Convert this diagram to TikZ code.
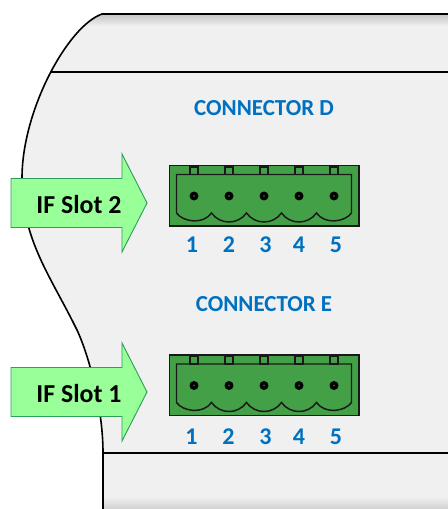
\documentclass[tikz,border=0pt]{standalone}
\usepackage{fontspec}
\setmainfont{Carlito}
\usepackage{xcolor}
\usetikzlibrary{calc}
\definecolor{panel}{HTML}{F0F0F0}
\definecolor{shade}{HTML}{C4C4C4}
\definecolor{blue}{HTML}{0070C0}
\definecolor{body}{HTML}{43A047}
\definecolor{slot}{HTML}{99FF99}
\definecolor{slotedge}{HTML}{2E9E5B}
\newcommand{\outline}{(102,14) .. controls (68,26) and (22,110) .. (22,178)
    .. controls (22,240) and (50,275) .. (77,330)
    .. controls (90,358) and (103,410) .. (103,453) -- (103,509)}
\tikzset{
  housing/.style={draw=black, line width=1.2pt},
  block/.style={draw=black!90, line width=1.1pt},
  arrowbox/.style={draw=slotedge, fill=slot, line width=0.7pt, line join=miter},
  pin/.style={circle, fill=black, inner sep=0pt, minimum size=6.75pt},
  labc/.style={text=blue, font=\fontsize{17.2}{20}\selectfont\bfseries},
  labn/.style={text=blue, font=\fontsize{18}{20}\selectfont\bfseries},
  labs/.style={text=black, font=\fontsize{19.4}{22}\selectfont\bfseries}
}
\begin{document}
\begin{tikzpicture}[x=0.75pt,y=-0.75pt]
  \useasboundingbox (0,0) rectangle (448,509);

  % housing
  \fill[panel] \outline -- (448,509) -- (448,14) -- cycle;
  \begin{scope}
    \clip \outline -- (448,509) -- (448,14) -- cycle;
    \shade[top color=shade, bottom color=panel] (60,14) rectangle (448,26);
    \shade[top color=panel, bottom color=shade!70!panel] (100,497) rectangle (448,509);
  \end{scope}
  \draw[housing] (448,14) -- \outline;
  \draw[line width=0.8pt] (50,72) -- (448,72);
  \draw[line width=0.8pt] (103,453) -- (448,453);

  % connector blocks
  \foreach \dy in {0,189.5} {
    \begin{scope}[yshift=-0.75pt*\dy]
      \fill[body] (169.5,165.5) rectangle (359,226);
      \draw[block, line width=1.2pt] (169.5,165.5) rectangle (359,226);
      \foreach \px in {194,229,264,299,334} {
        \draw[block] ($(\px,167)+(-3.8,0)$) rectangle ($(\px,174.5)+(3.8,0)$);
        \node[pin] at (\px,196) {};
        \fill[body!60!black] (\px,196) circle (1.2);
      }
      \draw[block] (176.5,213) -- (176.5,174.5) -- (351.5,174.5) -- (351.5,213)
        .. controls (345,222) and (325,225) .. (316.5,213)
        .. controls (308,225) and (290,225) .. (281.5,213)
        .. controls (273,225) and (255,225) .. (246.5,213)
        .. controls (238,225) and (220,225) .. (211.5,213)
        .. controls (203,225) and (183,222) .. (176.5,213);
    \end{scope}
  }

  \node[labc] (conD) at (264,108) {CONNECTOR D};
  \node[labc] (conE) at (264,304) {CONNECTOR E};

  \foreach \n/\xd/\xe in {1/192/191.5,2/229/228.5,3/265.5/265.5,4/299/299,5/336/336} {
    \node[labn] (numD\n) at (\xd,244.5) {\n};
    \node[labn] (numE\n) at (\xe,436.5) {\n};
  }

  % slot arrows
  \draw[arrowbox] (11,178.5) -- (122,178.5) -- (122,154) -- (147,203) -- (122,252) -- (122,227.5) -- (11,227.5) -- cycle;
  \draw[arrowbox] (11,367.5) -- (122,367.5) -- (122,343) -- (147,392) -- (122,441) -- (122,416.5) -- (11,416.5) -- cycle;
  \node[labs] (slotB) at (79,204.5) {IF Slot 2};
  \node[labs] (slotA) at (79,394) {IF Slot 1};
\end{tikzpicture}
\end{document}
